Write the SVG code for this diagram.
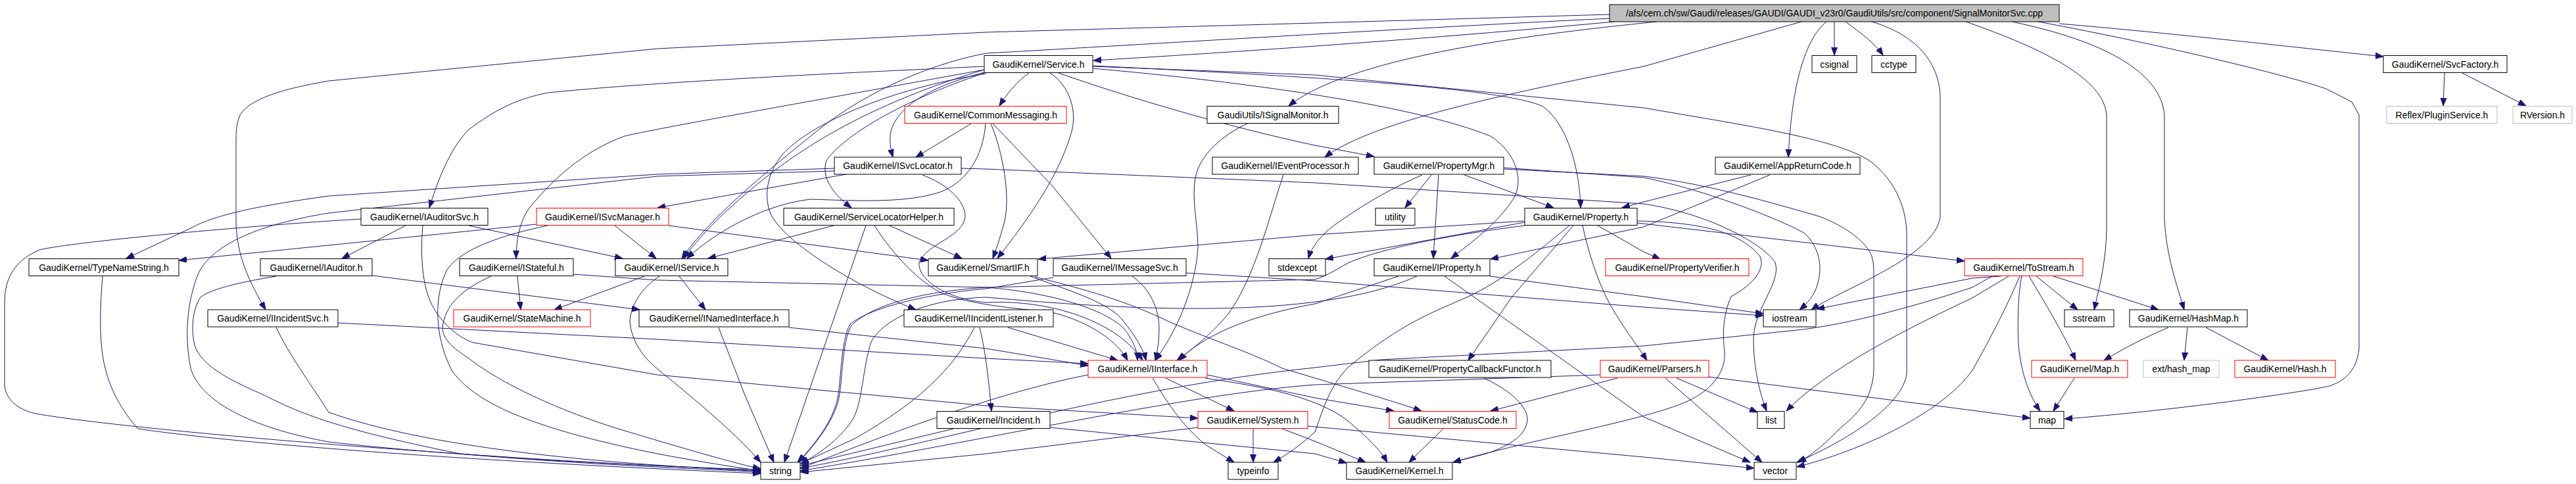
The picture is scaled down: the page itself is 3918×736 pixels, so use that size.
<svg xmlns="http://www.w3.org/2000/svg" width="3918" height="736" viewBox="0 0 3918 736">
<style>
.node rect{fill:#fff;stroke:#000;stroke-width:1}
.red rect{stroke:#f00}
.gray rect{stroke:#bfbfbf}
.root rect{fill:#bfbfbf}
.node text{font-family:"Liberation Sans",Arial,sans-serif;font-size:14px;text-anchor:middle;fill:#000}
#edges path{fill:none;stroke:#191970;stroke-width:1;marker-end:url(#arr)}
</style>
<defs>
<marker id="arr" markerUnits="userSpaceOnUse" markerWidth="13" markerHeight="10" refX="12" refY="4.5" orient="auto">
<path d="M0,0 L12,4.5 L0,9 z" fill="#191970" stroke="#191970"/>
</marker>
</defs>
<rect width="3918" height="736" fill="#fff"/>
<g id="edges">
<path d="M2455,33 C2250,52 2000,72 1663,92"/>
<path d="M2448,22 L2000,35 L1500,49 L1000,74 L500,123 C430,135 380,150 365,175 C359,190 359,200 359,220 L359,338 C360,390 380,430 404,471"/>
<path d="M2448,28 C2100,45 1700,70 1500,81 C1400,100 1300,150 1233,207 C1170,258 1080,330 1037,393"/>
<path d="M2520,33 C2300,55 2050,90 1960,161"/>
<path d="M2790,33 L2790,84"/>
<path d="M2807,33 C2830,50 2852,66 2864,84"/>
<path d="M2778,33 C2745,60 2725,130 2720,239"/>
<path d="M2740,33 L2500,101 C2250,150 2080,190 2015,239"/>
<path d="M2847,33 C2920,55 2951,100 2951,150 L2951,329 C2945,390 2800,440 2755,471"/>
<path d="M2990,33 C3110,75 3200,120 3204,175 L3204,350 C3203,395 3195,430 3185,471"/>
<path d="M3060,33 C3200,62 3287,110 3292,175 L3292,333 C3295,390 3310,430 3322,471"/>
<path d="M3132,36 C3300,50 3500,73 3625,86"/>
<path d="M3100,33 C3300,70 3500,120 3540,136 L3577,155 L3588,175 L3588,530 C3585,560 3570,578 3543,587 C3500,597 3300,625 3140,637"/>
<path d="M1565,111 C1545,125 1530,145 1520,161"/>
<path d="M1497,110 C1420,130 1365,160 1355,200 C1352,215 1355,228 1358,239"/>
<path d="M1497,111 C1367,155 1283,207 1257,244 C1250,265 1260,290 1295,316"/>
<path d="M1497,106 C1333,155 1233,216 1167,268 C1120,305 1070,350 1040,393"/>
<path d="M1497,106 C1200,160 1000,195 950,207 C900,225 850,260 803,319 C790,340 785,365 785,393"/>
<path d="M1497,101 C1300,110 1000,124 833,141 C790,150 760,162 713,197 C690,220 670,260 653,316"/>
<path d="M1597,111 C1620,125 1640,160 1630,200 C1615,250 1590,300 1517,393"/>
<path d="M1662,104 C1900,125 2150,160 2267,207 C2310,235 2318,280 2300,305 C2280,335 2250,360 2207,393"/>
<path d="M1610,111 C1750,160 1900,200 2000,221 L2090,238"/>
<path d="M1662,100 C1900,112 2280,130 2347,162 C2385,190 2403,260 2404,316"/>
<path d="M1662,101 L2000,114 L2500,164 C2650,190 2790,210 2843,244 C2885,275 2900,320 2900,357 L2900,568 C2895,610 2830,660 2733,703"/>
<path d="M1500,112 C1350,135 1230,190 1190,235 C1165,265 1162,300 1172,325 C1190,365 1290,430 1393,471"/>
<path d="M1477,188 L1393,239"/>
<path d="M1507,188 C1525,230 1538,300 1527,340 C1520,365 1515,380 1510,393"/>
<path d="M1510,188 L1600,282 L1690,393"/>
<path d="M1499,188 C1495,240 1470,275 1433,291 C1380,310 1300,305 1233,303 C1167,310 1090,350 1045,393"/>
<path d="M1287,265 L1000,316"/>
<path d="M1269,256 L1000,265 L500,298 C400,312 330,325 290,347 L192,393"/>
<path d="M1269,260 L1000,268 L500,324 C400,340 320,370 300,420 C285,460 280,510 290,560 C305,610 380,650 500,672 C700,695 1000,710 1157,714"/>
<path d="M1403,266 C1440,280 1468,305 1468,329 C1466,360 1410,370 1398,399 C1395,425 1440,455 1500,460 C1600,455 1700,490 1738,548"/>
<path d="M1462,256 L1500,257 L2000,278 L2500,310 C2600,325 2680,370 2700,399 C2710,430 2667,470 2667,516 C2667,560 2677,600 2687,625"/>
<path d="M816,341 L272,396"/>
<path d="M935,343 L998,393"/>
<path d="M1017,343 L1412,396"/>
<path d="M833,343 C760,358 700,380 680,410 C660,450 660,510 687,563 C720,610 800,650 1000,690 C1080,705 1130,712 1157,716"/>
<path d="M617,343 L520,393"/>
<path d="M713,343 L947,393"/>
<path d="M549,333 L500,336 C300,350 100,370 60,380 C25,395 7,420 7,460 L7,587 C10,610 30,625 60,630 C150,645 400,670 700,690 C900,705 1100,712 1157,717"/>
<path d="M643,343 C638,400 645,445 660,469 C675,495 700,515 720,521 L1000,570 L1500,617 L1822,636"/>
<path d="M787,420 L792,471"/>
<path d="M747,420 C700,441 677,465 673,498 C673,516 690,530 713,545 C760,582 850,625 950,655 C1050,685 1120,705 1157,713"/>
<path d="M872,417 L1000,426 L1500,437 C1600,445 1680,470 1710,500 C1725,520 1730,535 1730,548"/>
<path d="M1033,420 L1073,471"/>
<path d="M980,420 L843,471"/>
<path d="M1003,420 C980,435 960,460 958,488 C960,520 980,545 1000,561 C1060,610 1120,660 1157,703"/>
<path d="M566,419 L973,471"/>
<path d="M420,420 C360,430 320,440 305,452 C293,470 290,500 296,525 C305,550 330,570 400,600 C450,625 500,650 700,690 C900,708 1100,714 1157,718"/>
<path d="M156,420 C152,470 150,520 160,560 C170,600 190,630 210,652 C400,680 800,705 1157,720"/>
<path d="M514,491 L1000,516 L1500,545 L1655,553"/>
<path d="M420,498 C440,540 470,580 500,627 C650,680 900,705 1157,716"/>
<path d="M1093,498 L1133,601 L1177,703"/>
<path d="M1200,498 L1500,530 L1655,556"/>
<path d="M1268,343 L1077,393"/>
<path d="M1353,343 L1463,393"/>
<path d="M1317,343 L1193,703"/>
<path d="M1330,343 C1360,390 1400,430 1433,446 C1480,465 1560,470 1600,475 C1660,490 1700,520 1715,548"/>
<path d="M1567,420 C1620,440 1690,460 1710,490 C1730,515 1740,535 1743,548"/>
<path d="M1574,421 C1650,440 1712,457 1780,490 C1850,520 1900,535 1950,560 C2050,590 2120,610 2162,625"/>
<path d="M1722,420 C1750,440 1763,470 1763,500 C1763,520 1760,535 1757,548"/>
<path d="M1804,415 L2000,427 L2500,467 L2682,480"/>
<path d="M1602,422 L1500,439 C1400,448 1320,470 1293,493 C1278,520 1280,580 1273,610 C1265,640 1245,670 1213,703"/>
<path d="M2127,420 L2000,462 C1900,480 1830,510 1793,548"/>
<path d="M2155,420 C2000,490 1700,470 1500,452 C1400,455 1340,490 1325,520 C1312,560 1312,610 1298,636 C1280,665 1250,688 1218,705"/>
<path d="M2197,420 L2500,634 L2662,703"/>
<path d="M2266,420 L2500,451 L2682,477"/>
<path d="M2319,338 L2016,394"/>
<path d="M2319,336 L2000,357 L1579,394"/>
<path d="M2319,343 C2200,358 2100,378 2050,400 C2030,412 2015,420 2000,425 L1500,437 C1380,445 1320,470 1295,495 C1280,520 1282,580 1275,610 C1265,645 1240,675 1215,703"/>
<path d="M2430,343 L2500,383 L2525,394"/>
<path d="M2490,339 L2988,397"/>
<path d="M2407,343 C2415,380 2430,430 2450,465 C2470,500 2490,525 2505,548"/>
<path d="M2393,343 L2300,451 L2233,548"/>
<path d="M2387,343 C2330,390 2280,430 2233,451 C2180,475 2133,490 2050,559 C2020,590 2010,630 2000,657 C1980,675 1960,690 1937,703"/>
<path d="M2490,336 C2600,338 2650,357 2677,390 C2685,410 2667,432 2633,451 C2620,480 2620,510 2623,535 C2625,560 2610,590 2567,610 C2500,640 2333,667 2210,703"/>
<path d="M2663,266 L2500,307 L2467,316"/>
<path d="M2692,266 L2500,345 L2267,394"/>
<path d="M2177,266 L2137,316"/>
<path d="M2188,266 L2180,393"/>
<path d="M2227,266 L2363,316"/>
<path d="M2163,266 C2120,285 2083,305 2040,335 C2010,355 1995,375 1990,393"/>
<path d="M2287,255 L2500,270 C2600,290 2717,338 2745,355 C2767,376 2772,404 2765,430 C2760,450 2748,462 2737,471"/>
<path d="M2287,257 L2500,268 C2600,280 2700,310 2767,329 C2810,345 2840,370 2847,390 C2850,400 2850,410 2850,420 L2850,563 C2848,600 2833,624 2800,650 C2780,670 2760,690 2735,703"/>
<path d="M2550,575 L2673,627"/>
<path d="M2533,575 L2680,703"/>
<path d="M2599,573 L3000,624 L3088,636"/>
<path d="M2460,575 L2267,625"/>
<path d="M2434,570 L2000,585 C1800,600 1500,670 1217,716"/>
<path d="M3097,420 L3160,471"/>
<path d="M3123,420 L3283,471"/>
<path d="M3086,420 C3110,460 3140,510 3157,548"/>
<path d="M3075,420 C3068,450 3068,520 3072,540 C3075,565 3085,600 3103,625"/>
<path d="M3055,420 L3000,453 C2900,500 2780,560 2717,625"/>
<path d="M3072,420 C3055,460 3030,510 3000,563 C2960,620 2850,680 2733,710"/>
<path d="M3043,420 L3000,423 L2763,470"/>
<path d="M3030,420 L3000,437 C2900,470 2800,495 2733,502 L2500,526 L2100,547 L2000,559 C1700,590 1400,680 1217,712"/>
<path d="M3298,498 C3260,514 3230,530 3200,548"/>
<path d="M3327,498 L3322,548"/>
<path d="M3355,498 L3450,548"/>
<path d="M3155,575 L3123,625"/>
<path d="M3718,111 L3716,161"/>
<path d="M3745,111 L3842,161"/>
<path d="M1533,498 L1700,548"/>
<path d="M1490,498 C1498,530 1503,570 1508,625"/>
<path d="M1482,498 C1450,560 1400,610 1300,667 L1218,705"/>
<path d="M1597,650 L2000,690 L2048,704"/>
<path d="M1450,652 L1218,708"/>
<path d="M1773,575 L1877,625"/>
<path d="M1753,575 C1780,620 1800,648 1833,676 L1877,703"/>
<path d="M1833,575 C1900,585 2000,600 2050,640 C2080,665 2100,685 2110,703"/>
<path d="M1836,570 L2000,605 L2120,625"/>
<path d="M1655,570 C1500,600 1300,680 1218,712"/>
<path d="M1906,652 L1906,703"/>
<path d="M1950,652 L2000,671 L2077,703"/>
<path d="M1989,648 L2500,695 L2668,712"/>
<path d="M1822,650 L1500,690 L1218,718"/>
<path d="M2195,652 L2143,703"/>
<path d="M2257,575 C2300,595 2325,620 2323,640 C2320,665 2290,680 2260,690 L2210,703"/>
<path d="M1952,266 C1930,330 1910,420 1867,479 C1840,510 1815,530 1790,548"/>
<path d="M1897,188 C1860,205 1825,235 1818,270 C1812,305 1822,340 1822,376 C1820,420 1800,490 1757,548"/>
</g>
<g id="nodes">
<g id="n_root" class="node root"><rect x="2448" y="7" width="684" height="26"/><text x="2790" y="25">/afs/cern.ch/sw/Gaudi/releases/GAUDI/GAUDI_v23r0/GaudiUtils/src/component/SignalMonitorSvc.cpp</text></g>
<g id="n_service" class="node"><rect x="1497" y="84.5" width="165" height="26"/><text x="1579.5" y="102.5">GaudiKernel/Service.h</text></g>
<g id="n_csignal" class="node"><rect x="2756" y="84.5" width="68" height="26"/><text x="2790" y="102.5">csignal</text></g>
<g id="n_cctype" class="node"><rect x="2847" y="84.5" width="67" height="26"/><text x="2880.5" y="102.5">cctype</text></g>
<g id="n_svcfactory" class="node"><rect x="3625" y="84.5" width="188" height="26"/><text x="3719" y="102.5">GaudiKernel/SvcFactory.h</text></g>
<g id="n_commonmessaging" class="node red"><rect x="1376" y="161.5" width="246" height="26"/><text x="1499" y="179.5">GaudiKernel/CommonMessaging.h</text></g>
<g id="n_isignalmonitor" class="node"><rect x="1836" y="161.5" width="200" height="26"/><text x="1936" y="179.5">GaudiUtils/ISignalMonitor.h</text></g>
<g id="n_pluginservice" class="node gray"><rect x="3630" y="161.5" width="168" height="26"/><text x="3714" y="179.5">Reflex/PluginService.h</text></g>
<g id="n_rversion" class="node gray"><rect x="3822" y="161.5" width="90" height="26"/><text x="3867" y="179.5">RVersion.h</text></g>
<g id="n_isvclocator" class="node"><rect x="1269" y="239" width="193" height="26"/><text x="1365.5" y="257">GaudiKernel/ISvcLocator.h</text></g>
<g id="n_ieventprocessor" class="node"><rect x="1844" y="239" width="222" height="26"/><text x="1955" y="257">GaudiKernel/IEventProcessor.h</text></g>
<g id="n_propertymgr" class="node"><rect x="2090" y="239" width="197" height="26"/><text x="2188.5" y="257">GaudiKernel/PropertyMgr.h</text></g>
<g id="n_appreturncode" class="node"><rect x="2609" y="239" width="220" height="26"/><text x="2719" y="257">GaudiKernel/AppReturnCode.h</text></g>
<g id="n_iauditorsvc" class="node"><rect x="549" y="316.5" width="193" height="26"/><text x="645.5" y="334.5">GaudiKernel/IAuditorSvc.h</text></g>
<g id="n_isvcmanager" class="node red"><rect x="816" y="316.5" width="201" height="26"/><text x="916.5" y="334.5">GaudiKernel/ISvcManager.h</text></g>
<g id="n_servicelocatorhelper" class="node"><rect x="1192" y="316.5" width="259" height="26"/><text x="1321.5" y="334.5">GaudiKernel/ServiceLocatorHelper.h</text></g>
<g id="n_utility" class="node"><rect x="2092" y="316.5" width="60" height="26"/><text x="2122" y="334.5">utility</text></g>
<g id="n_property" class="node"><rect x="2319" y="316.5" width="171" height="26"/><text x="2404.5" y="334.5">GaudiKernel/Property.h</text></g>
<g id="n_typenamestring" class="node"><rect x="44" y="393.5" width="228" height="26"/><text x="158" y="411.5">GaudiKernel/TypeNameString.h</text></g>
<g id="n_iauditor" class="node"><rect x="396" y="393.5" width="170" height="26"/><text x="481" y="411.5">GaudiKernel/IAuditor.h</text></g>
<g id="n_istateful" class="node"><rect x="699" y="393.5" width="173" height="26"/><text x="785.5" y="411.5">GaudiKernel/IStateful.h</text></g>
<g id="n_iservice" class="node"><rect x="936" y="393.5" width="171" height="26"/><text x="1021.5" y="411.5">GaudiKernel/IService.h</text></g>
<g id="n_smartif" class="node"><rect x="1412" y="393.5" width="166" height="26"/><text x="1495" y="411.5">GaudiKernel/SmartIF.h</text></g>
<g id="n_imessagesvc" class="node"><rect x="1602" y="393.5" width="202" height="26"/><text x="1703" y="411.5">GaudiKernel/IMessageSvc.h</text></g>
<g id="n_stdexcept" class="node"><rect x="1930" y="393.5" width="86" height="26"/><text x="1973" y="411.5">stdexcept</text></g>
<g id="n_iproperty" class="node"><rect x="2090" y="393.5" width="176" height="26"/><text x="2178" y="411.5">GaudiKernel/IProperty.h</text></g>
<g id="n_propertyverifier" class="node red"><rect x="2442" y="393.5" width="218" height="26"/><text x="2551" y="411.5">GaudiKernel/PropertyVerifier.h</text></g>
<g id="n_tostream" class="node red"><rect x="2988" y="393.5" width="180" height="26"/><text x="3078" y="411.5">GaudiKernel/ToStream.h</text></g>
<g id="n_iincidentsvc" class="node"><rect x="316" y="471" width="198" height="26"/><text x="415" y="489">GaudiKernel/IIncidentSvc.h</text></g>
<g id="n_statemachine" class="node red"><rect x="690" y="471" width="208" height="26"/><text x="794" y="489">GaudiKernel/StateMachine.h</text></g>
<g id="n_inamedinterface" class="node"><rect x="972" y="471" width="228" height="26"/><text x="1086" y="489">GaudiKernel/INamedInterface.h</text></g>
<g id="n_iincidentlistener" class="node"><rect x="1375" y="471" width="227" height="26"/><text x="1488.5" y="489">GaudiKernel/IIncidentListener.h</text></g>
<g id="n_iostream" class="node"><rect x="2682" y="471" width="80" height="26"/><text x="2722" y="489">iostream</text></g>
<g id="n_sstream" class="node"><rect x="3140" y="471" width="75" height="26"/><text x="3177.5" y="489">sstream</text></g>
<g id="n_hashmap" class="node"><rect x="3239" y="471" width="179" height="26"/><text x="3328.5" y="489">GaudiKernel/HashMap.h</text></g>
<g id="n_iinterface" class="node red"><rect x="1655" y="548" width="181" height="26"/><text x="1745.5" y="566">GaudiKernel/IInterface.h</text></g>
<g id="n_propertycallbackfunctor" class="node"><rect x="2082" y="548" width="277" height="26"/><text x="2220.5" y="566">GaudiKernel/PropertyCallbackFunctor.h</text></g>
<g id="n_parsers" class="node red"><rect x="2434" y="548" width="165" height="26"/><text x="2516.5" y="566">GaudiKernel/Parsers.h</text></g>
<g id="n_map_h" class="node red"><rect x="3090" y="548" width="146" height="26"/><text x="3163" y="566">GaudiKernel/Map.h</text></g>
<g id="n_ext_hash_map" class="node gray"><rect x="3260" y="548" width="115" height="26"/><text x="3317.5" y="566">ext/hash_map</text></g>
<g id="n_hash" class="node red"><rect x="3399" y="548" width="153" height="26"/><text x="3475.5" y="566">GaudiKernel/Hash.h</text></g>
<g id="n_incident" class="node"><rect x="1425" y="625.5" width="172" height="26"/><text x="1511" y="643.5">GaudiKernel/Incident.h</text></g>
<g id="n_system" class="node red"><rect x="1822" y="625.5" width="167" height="26"/><text x="1905.5" y="643.5">GaudiKernel/System.h</text></g>
<g id="n_statuscode" class="node red"><rect x="2113" y="625.5" width="193" height="26"/><text x="2209.5" y="643.5">GaudiKernel/StatusCode.h</text></g>
<g id="n_list" class="node"><rect x="2673" y="625.5" width="41" height="26"/><text x="2693.5" y="643.5">list</text></g>
<g id="n_map" class="node"><rect x="3088" y="625.5" width="51" height="26"/><text x="3113.5" y="643.5">map</text></g>
<g id="n_string" class="node"><rect x="1157" y="703" width="60" height="26"/><text x="1187" y="721">string</text></g>
<g id="n_typeinfo" class="node"><rect x="1868" y="703" width="76" height="26"/><text x="1906" y="721">typeinfo</text></g>
<g id="n_kernel" class="node"><rect x="2048" y="703" width="161" height="26"/><text x="2128.5" y="721">GaudiKernel/Kernel.h</text></g>
<g id="n_vector" class="node"><rect x="2668" y="703" width="64" height="26"/><text x="2700" y="721">vector</text></g>
</g>
</svg>
